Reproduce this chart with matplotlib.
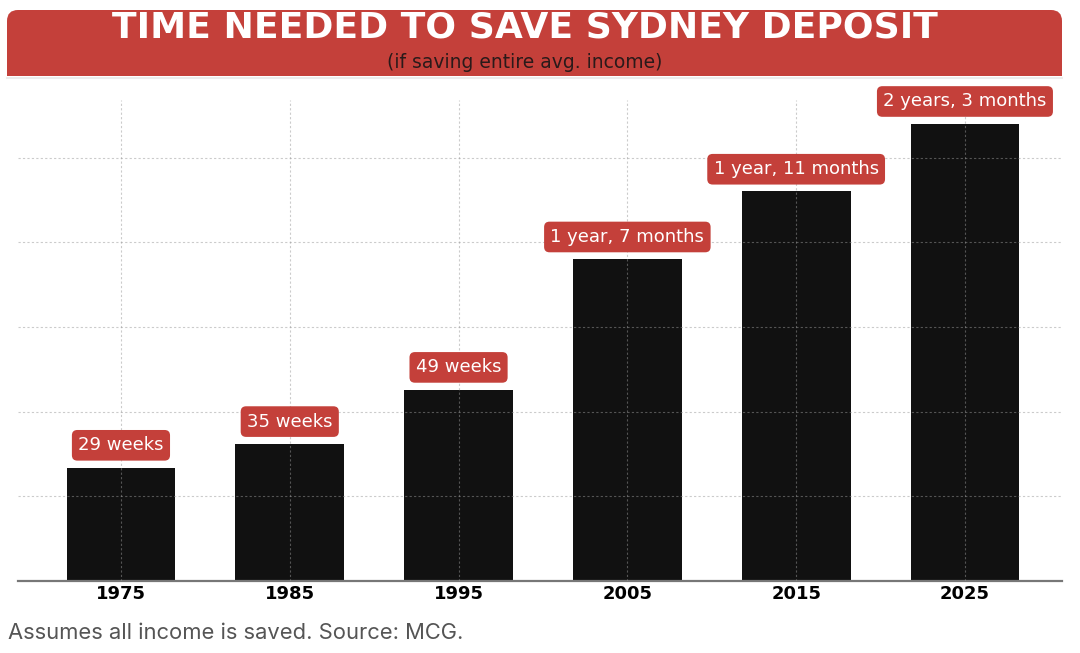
import matplotlib.pyplot as plt
from matplotlib.patches import FancyBboxPatch, Rectangle

# data: time to save a Sydney deposit, in months (29/35/49 weeks, 1y7m, 1y11m, 2y3m)
years = ["1975", "1985", "1995", "2005", "2015", "2025"]
months = [6.7, 8.1, 11.3, 19, 23, 27]
labels = ["29 weeks", "35 weeks", "49 weeks", "1 year, 7 months",
          "1 year, 11 months", "2 years, 3 months"]

RED = "#c4403a"
W, H = 1080, 653

fig = plt.figure(figsize=(W / 100, H / 100), dpi=100)
fig.patch.set_facecolor("white")

# header band drawn in pixel coordinates
hd = fig.add_axes([0, 0, 1, 1], zorder=0)
hd.set_xlim(0, W); hd.set_ylim(H, 0); hd.axis("off")
hd.add_patch(FancyBboxPatch((7, 10), 1055, 66, boxstyle="round,pad=0,rounding_size=11",
                            fc=RED, ec="none"))
hd.add_patch(Rectangle((7, 45), 1055, 31, fc=RED, ec="none"))
hd.plot([7, 1062], [77.5, 77.5], color="#ececec", lw=1.5)
hd.text(525, 28, "TIME NEEDED TO SAVE SYDNEY DEPOSIT", color="white",
        fontsize=26, fontweight="bold", ha="center", va="center")
hd.text(525, 62, "(if saving entire avg. income)", color="#2a1a1a",
        fontsize=13.5, ha="center", va="center")
hd.text(8, 633, "Assumes all income is saved. Source: MCG.", color="#555555",
        fontsize=15.8, ha="left", va="center", family=["Inter", "DejaVu Sans"])

ax = fig.add_axes([18 / W, (H - 581) / H, (1062 - 18) / W, (581 - 100) / H], zorder=1)
ax.patch.set_alpha(0)
x = range(len(years))
ax.bar(x, months, width=0.645, color="#111111", zorder=1)
for xi, v, lab in zip(x, months, labels):
    ax.annotate(lab, (xi, v), xytext=(0, 16), textcoords="offset points",
                ha="center", va="center", color="white", fontsize=13,
                bbox=dict(boxstyle="round,pad=0.35,rounding_size=0.3", fc=RED, ec="none"))

ax.set_xlim(-0.61, 5.575)
ax.set_ylim(0, 28.4)
ax.set_xticks(list(x))
ax.set_xticklabels(years, fontsize=13, fontweight="bold")
ax.set_yticks([5, 10, 15, 20, 25])
ax.tick_params(axis="y", left=False, labelleft=False)
ax.tick_params(axis="x", length=0, pad=3)
ax.grid(True, color="#999999", alpha=0.5, linestyle=(0, (2, 2)), linewidth=0.8)
ax.set_axisbelow(False)
for s in ["left", "right", "top"]:
    ax.spines[s].set_visible(False)
ax.spines["bottom"].set_color("#777777")
ax.spines["bottom"].set_linewidth(1.6)

fig.savefig("out.png", dpi=100)
